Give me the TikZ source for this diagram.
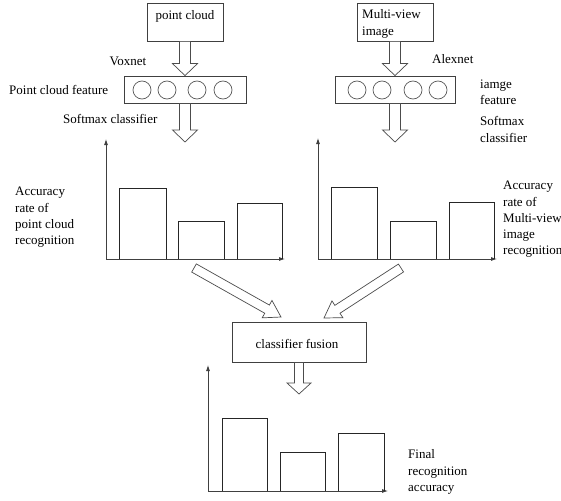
\documentclass[tikz,border=0pt]{standalone}
\usepackage{fontspec}
\setmainfont{Liberation Serif}
\usetikzlibrary{calc,arrows.meta}

% hollow block arrow: from, to, half shaft, half head, head length
\newcommand{\hollowarrow}[5]{%
	\coordinate (hh) at ($(#2)!#5!(#1)$);
	\draw[hollow] ($(#1)!#3!90:(#2)$) -- ($(hh)!#3!90:(#2)$) -- ($(hh)!#4!90:(#2)$) -- (#2)
		-- ($(hh)!#4!-90:(#2)$) -- ($(hh)!#3!-90:(#2)$) -- ($(#1)!#3!-90:(#2)$) -- cycle;
}

\tikzset{
	txt/.style={font=\fontsize{13}{16.3}\selectfont, inner sep=0pt},
	box/.style={draw=black!75, line width=0.8pt, inner sep=0pt},
	hollow/.style={draw=black!70, line width=0.7pt, fill=white, line join=miter},
	axis/.style={draw=black!75, line width=0.8pt, -{Latex[length=6pt,width=4pt]}},
	bar/.style={draw=black!85, line width=0.7pt}
}

\begin{document}
\begin{tikzpicture}[x=1pt, y=-1pt]
			\useasboundingbox (0,0) rectangle (561,500);
			% Input boxes
			\node[box, minimum width=76pt, minimum height=38pt] (pc) at (185,22) {};
			\node[txt] (pctxt) at (185,16) {point cloud};
			\node[box, minimum width=76pt, minimum height=38pt] (mv) at (395,22) {};
			\node[txt, align=left, anchor=west] (mvtxt) at (362,24) {Multi-view\\image};
			% Feature boxes
			\node[box, minimum width=122pt, minimum height=27pt] (pcf) at (185,89.5) {};
			\node[box, minimum width=120pt, minimum height=27pt] (mvf) at (395,89.5) {};
			\foreach \i/\x in {1/142,2/167,3/197,4/223} {
				\node[circle, draw=black!65, line width=0.7pt, minimum size=18pt, inner sep=0pt] (pcc\i) at (\x,90) {};
			}
			\foreach \i/\x in {1/357,2/382,3/413,4/438} {
				\node[circle, draw=black!65, line width=0.7pt, minimum size=18pt, inner sep=0pt] (mvc\i) at (\x,90) {};
			}
			\node[txt] (vox) at (128,61) {Voxnet};
			\node[txt, anchor=west] (alex) at (432,59) {Alexnet};
			\node[txt, anchor=west] (pcflab) at (9,90) {Point cloud feature};
			\node[txt, align=left, anchor=west] (mvflab) at (480,92.5) {iamge\\feature};
			\node[txt, anchor=west] (sm1lab) at (63,119) {Softmax classifier};
			\node[txt, align=left, anchor=west] (sm2lab) at (480,129.5) {Softmax\\classifier};
			% Fusion box
			\node[box, minimum width=134pt, minimum height=40pt] (fus) at (299,342) {};
			\node[txt] (fustxt) at (297,344) {classifier fusion};
			% Arrow ends
			\coordinate (sm1) at (185,142);
			\coordinate (sm2) at (395,142);
			\coordinate (t1) at (194,268);
			\coordinate (t2) at (401,268);
			\coordinate (h1) at (281,317);
			\coordinate (h2) at (324,318);
			\coordinate (fin) at (299,394);
			\hollowarrow{pc.south}{pcf.north}{5.5pt}{12.5pt}{12pt}
			\hollowarrow{mv.south}{mvf.north}{5.5pt}{12.5pt}{12pt}
			\hollowarrow{pcf.south}{sm1}{5.5pt}{12.5pt}{12pt}
			\hollowarrow{mvf.south}{sm2}{5.5pt}{12.5pt}{12pt}
			\hollowarrow{t1}{h1}{4.7pt}{10pt}{16pt}
			\hollowarrow{t2}{h2}{4.7pt}{10pt}{16pt}
			\hollowarrow{fus.south}{fin}{4.5pt}{12pt}{11pt}
			% Charts
			\coordinate (o1) at (106,259);
			\coordinate (o2) at (318,259);
			\coordinate (o3) at (208,491);
			\draw[axis] (o1) -- ++(0,-120);
			\draw[axis] (o1) -- ++(179,0);
			\draw[axis] (o2) -- ++(0,-121);
			\draw[axis] (o2) -- ++(179,0);
			\draw[axis] (o3) -- ++(0,-126);
			\draw[axis] (o3) -- ++(180,0);
			\foreach \a/\b/\h in {119/166/188,178/224/221,237/282/203} {
				\draw[bar] (\a,259) -- (\a,\h) -- (\b,\h) -- (\b,259);
			}
			\foreach \a/\b/\h in {331/377/187,390/436/221,449/494/202} {
				\draw[bar] (\a,259) -- (\a,\h) -- (\b,\h) -- (\b,259);
			}
			\foreach \a/\b/\h in {222/267/418,280/325/452,338/384/433} {
				\draw[bar] (\a,491) -- (\a,\h) -- (\b,\h) -- (\b,491);
			}
			\node[txt, align=left, anchor=west] (acc1) at (15,217.5) {Accuracy\\rate of\\point cloud\\recognition};
			\node[txt, align=left, anchor=west] (acc2) at (503,219.5) {Accuracy\\rate of\\Multi-view\\image\\recognition};
			\node[txt, align=left, anchor=west] (acc3) at (408,472) {Final\\recognition\\accuracy};
		\end{tikzpicture}
\end{document}
